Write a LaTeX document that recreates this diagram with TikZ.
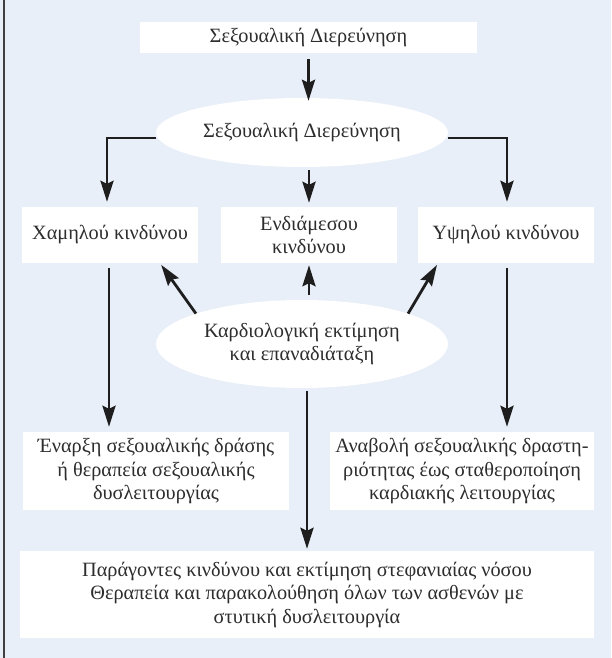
\documentclass[tikz,border=0pt]{standalone}
\usepackage{fontspec}
\setmainfont{Liberation Serif}
\usetikzlibrary{shapes.geometric,arrows.meta}
\definecolor{bgblue}{RGB}{232,239,248}
\definecolor{txtgray}{RGB}{45,45,45}
\definecolor{arrgray}{RGB}{30,30,30}
\begin{document}
\begin{tikzpicture}[x=1pt,y=-1pt,
  every node/.style={font=\fontsize{20.3}{23.5}\selectfont, text=txtgray, align=center, inner sep=0pt},
  wbox/.style={rectangle, fill=white},
  wellipse/.style={ellipse, fill=white},
  arr/.style={draw=arrgray, line width=2.8pt, -{Stealth[length=21pt,width=13pt,inset=3pt]}}]
\fill[bgblue] (0,0) rectangle (611,658);
\useasboundingbox (0,0) rectangle (611,658);
\draw[line width=1.5pt, draw=black!75] (4,0) -- (4,658);

\node[wbox, minimum width=337pt, minimum height=31pt] (top) at (308.5,37.5) {Σεξουαλική Διερεύνηση};
\node[wellipse, minimum width=292pt, minimum height=69pt] (e1) at (302,132.5) {Σεξουαλική Διερεύνηση};
\node[wbox, minimum width=176pt, minimum height=56pt] (low) at (110,235) {Χαμηλού κινδύνου};
\node[wbox, minimum width=176pt, minimum height=56pt] (mid) at (309,235) {Ενδιάμεσου\\κινδύνου};
\node[wbox, minimum width=176pt, minimum height=56pt] (high) at (506,235) {Υψηλού κινδύνου};
\node[wellipse, minimum width=292pt, minimum height=88pt] (e2) at (302,344) {Καρδιολογική εκτίμηση\\και επαναδιάταξη};
\node[wbox, minimum width=266pt, minimum height=78pt] (bl) at (156,471) {Έναρξη σεξουαλικής δράσης\\ή θεραπεία σεξουαλικής\\δυσλειτουργίας};
\node[wbox, minimum width=264pt, minimum height=78pt] (br) at (462,471) {Αναβολή σεξουαλικής δραστη-\\ριότητας έως σταθεροποίηση\\καρδιακής λειτουργίας};
\node[wbox, minimum width=574pt, minimum height=87pt] (bot) at (307,594.5) {Παράγοντες κινδύνου και εκτίμηση στεφανιαίας νόσου\\Θεραπεία και παρακολούθηση όλων των ασθενών με\\στυτική δυσλειτουργία};

\draw[arr, shorten <=6pt, shorten >=-3pt] (top.south) -- (top.south |- e1.north);
\draw[arr, shorten >=5pt] ([yshift=-5.5pt]e1.west) -| ([xshift=-3pt]low.north);
\draw[arr, shorten >=5pt] ([yshift=-5.5pt]e1.east) -| ([xshift=1pt]high.north);
\draw[arr, shorten <=3pt, shorten >=4pt] (mid.north |- e1.south) -- (mid.north);
\draw[arr, shorten <=5pt, shorten >=5pt] ([xshift=-1pt]low.south) -- ([xshift=-1pt]low.south |- bl.north);
\draw[arr, shorten <=5pt, shorten >=5pt] ([xshift=1pt]high.south) -- ([xshift=1pt]high.south |- br.north);
\draw[arr, shorten >=2pt] (e2.164) -- ([xshift=50pt]low.south);
\draw[arr, shorten >=2pt] (e2.16) -- ([xshift=-68pt]high.south);
\draw[arr, shorten <=5pt, shorten >=2pt] (mid.south |- e2.north) -- (mid.south);
\draw[arr, shorten <=3pt, shorten >=2pt] (bot.north |- e2.south) -- (bot.north);
\end{tikzpicture}
\end{document}
